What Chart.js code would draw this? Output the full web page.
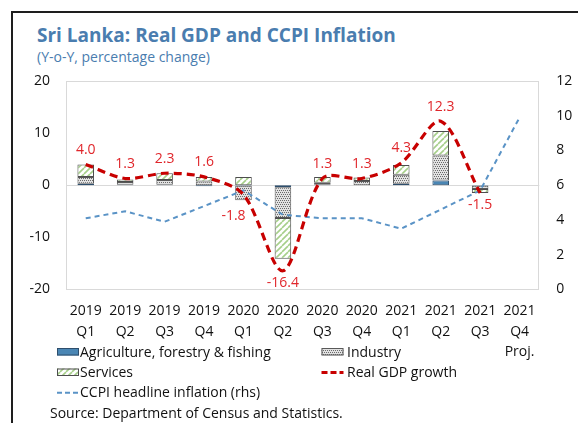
<!DOCTYPE html>
<html><head><meta charset="utf-8">
<script src="https://cdn.jsdelivr.net/npm/chart.js@4.4.1/dist/chart.umd.min.js"></script>
<style>
html,body{margin:0;padding:0;background:#fff;width:578px;height:423px;overflow:hidden;position:relative;}
#frame{position:absolute;left:11px;top:11px;width:700px;height:600px;border-left:2px solid #1e1e1e;border-top:2px solid #1e1e1e;}
.t{position:absolute;font-family:'Open Sans',sans-serif;white-space:nowrap;line-height:1.2;}
#title{left:37px;top:24px;font-size:19px;font-weight:bold;color:#4A7DAF;}
#sub{left:37px;top:49px;font-size:14px;color:#4A7DAF;}
#src{left:50px;top:405px;font-size:14px;color:#111;}
#c{position:absolute;left:0;top:0;}
</style></head>
<body>
<div id="frame"></div>
<div class="t" id="title">Sri Lanka: Real GDP and CCPI Inflation</div>
<div class="t" id="sub">(Y-o-Y, percentage change)</div>
<canvas id="c" width="578" height="423"></canvas>
<div class="t" id="src">Source: Department of Census and Statistics.</div>
<script>
// ---- data ----
const categories = [['2019','Q1'],['2019','Q2'],['2019','Q3'],['2019','Q4'],['2020','Q1'],['2020','Q2'],['2020','Q3'],['2020','Q4'],['2021','Q1'],['2021','Q2'],['2021','Q3'],['2021','Q4','Proj.']];
const agriculture = [0.3, 0.1, 0.1, -0.2, -0.1, -0.4, 0.1, 0.0, 0.3, 0.9, -0.1, null];
const industry    = [1.3, 0.5, 0.9, 0.7, -2.8, -5.9, 0.4, 0.8, 1.7, 4.8, -0.6, null];
const services    = [2.4, 0.5, 1.3, 0.9, 1.6, -7.8, 1.1, 0.7, 1.9, 4.7, -0.8, null];
const realGDP     = [4.0, 1.3, 2.3, 1.6, -1.8, -16.4, 1.3, 1.3, 4.3, 12.3, -1.5, null];
const ccpi        = [4.1, 4.5, 3.9, 4.8, 5.7, 4.3, 4.1, 4.1, 3.5, 4.6, 5.7, 9.9];
const leftTicks   = [-20, -10, 0, 10, 20];
const rightTicks  = [0, 2, 4, 6, 8, 10, 12];
const seriesNames = ['Agriculture, forestry & fishing','Industry','Services','Real GDP growth','CCPI headline inflation (rhs)'];

const FONT = '"Open Sans", sans-serif';
const canvas = document.getElementById('c');
const ctx = canvas.getContext('2d');

function tile(w, h, draw){
  const t = document.createElement('canvas'); t.width = w; t.height = h;
  draw(t.getContext('2d'), w, h);
  return ctx.createPattern(t, 'repeat');
}
const industryPattern = tile(4, 4, (g, w, h) => {
  g.fillStyle = '#E2E2E2'; g.fillRect(0, 0, w, h);
  g.fillStyle = '#6A6A6A';
  [[0,0],[2,0],[1,2],[3,2]].forEach(p => g.fillRect(p[0], p[1], 1, 1));
});
const servicesPattern = tile(6, 6, (g, w, h) => {
  g.fillStyle = '#FFFFFF'; g.fillRect(0, 0, w, h);
  g.strokeStyle = '#A6CF8A'; g.lineWidth = 1.6;
  for (let k = -1; k <= 1; k++) {
    g.beginPath(); g.moveTo(k * w, h); g.lineTo(k * w + w, 0); g.stroke();
  }
});
const agriColor = '#4A86B4';

const labelColor = '#E0262B';
function labelOffset(i, v){
  if (i === 4) return [-10, 21];
  return v >= 0 ? [0, -14.5] : [0, 12];
}

const framePlugin = {
  id: 'frameAndZero',
  beforeDatasetsDraw(chart){
    const a = chart.chartArea, g = chart.ctx, y0 = chart.scales.y.getPixelForValue(0);
    g.save();
    g.strokeStyle = '#D9D9D9'; g.lineWidth = 1;
    g.strokeRect(Math.round(a.left) + 0.5, Math.round(a.top) + 0.5, Math.round(a.right - a.left) - 1, Math.round(a.bottom - a.top) - 1);
    g.beginPath(); g.moveTo(a.left, Math.round(y0) + 0.5); g.lineTo(a.right, Math.round(y0) + 0.5); g.stroke();
    g.restore();
  }
};

const labelPlugin = {
  id: 'gdpLabels',
  afterDatasetsDraw(chart){
    const meta = chart.getDatasetMeta(3), g = chart.ctx;
    g.save();
    g.font = '14px ' + FONT; g.fillStyle = labelColor;
    g.textAlign = 'center'; g.textBaseline = 'middle';
    realGDP.forEach((v, i) => {
      if (v === null) return;
      const p = meta.data[i]; const o = labelOffset(i, v);
      g.fillText(v.toFixed(1), p.x + o[0], p.y + o[1]);
    });
    g.restore();
  }
};

const legendPlugin = {
  id: 'customLegend',
  afterDraw(chart){
    const g = chart.ctx, ds = chart.data.datasets;
    const cols = [57, 321.5], textX = [80, 347], rows = [356.5, 377, 397.3];
    const items = [[0,0,0],[1,1,0],[2,0,1],[3,1,1],[4,0,2]];
    g.save();
    g.font = '14px ' + FONT; g.fillStyle = '#111'; g.textBaseline = 'alphabetic'; g.textAlign = 'left';
    items.forEach(([d, c, r]) => {
      const d0 = ds[d], x = cols[c], yb = rows[r];
      if (d0.type === 'line') {
        g.save();
        g.strokeStyle = d0.borderColor; g.lineWidth = d === 3 ? 3 : 2;
        g.setLineDash(d === 3 ? [6, 3] : [5, 3]);
        g.beginPath(); g.moveTo(x, yb - 4.5); g.lineTo(x + 22, yb - 4.5); g.stroke();
        g.restore();
      } else {
        g.fillStyle = d0.backgroundColor; g.fillRect(x, yb - 8.5, 22, 7.5);
        g.strokeStyle = d0.borderColor; g.lineWidth = 1; g.strokeRect(x + 0.5, yb - 8.5 + 0.5, 21, 6.5);
        g.fillStyle = '#111';
      }
      g.fillText(d0.label, textX[c], yb);
    });
    g.restore();
  }
};

const barCommon = { type: 'bar', yAxisID: 'y', stack: 's', barPercentage: 0.42, categoryPercentage: 1, borderWidth: 1, borderSkipped: false, order: 3 };

new Chart(canvas, {
  data: {
    labels: categories,
    datasets: [
      Object.assign({ label: seriesNames[0], data: agriculture, backgroundColor: agriColor, borderColor: '#2E4E6C' }, barCommon),
      Object.assign({ label: seriesNames[1], data: industry, backgroundColor: industryPattern, borderColor: '#595959' }, barCommon),
      Object.assign({ label: seriesNames[2], data: services, backgroundColor: servicesPattern, borderColor: '#4D4D4D' }, barCommon),
      { type: 'line', label: seriesNames[3], data: realGDP, yAxisID: 'y', borderColor: '#C80000', borderWidth: 3.2, borderDash: [8, 5], pointRadius: 0, tension: 0.3, fill: false, spanGaps: false, order: 0 },
      { type: 'line', label: seriesNames[4], data: ccpi, yAxisID: 'y1', borderColor: '#5A93C6', borderWidth: 2, borderDash: [5, 4], pointRadius: 0, tension: 0, fill: false, order: 1 }
    ]
  },
  options: {
    responsive: false, animation: false, devicePixelRatio: 1,
    layout: { padding: { top: 81, left: 0, right: 0, bottom: 0 } },
    plugins: { legend: { display: false }, tooltip: { enabled: false }, title: { display: false } },
    scales: {
      x: {
        stacked: true, offset: true,
        grid: { display: false, drawTicks: false }, border: { display: false },
        ticks: { color: '#111', font: { family: FONT, size: 14, lineHeight: 1.43 }, padding: 12, maxRotation: 0, autoSkip: false },
        afterFit(s){ s.height = 423 - 289.5; }
      },
      y: {
        position: 'left', stacked: true, min: leftTicks[0], max: leftTicks[leftTicks.length - 1],
        afterBuildTicks(s){ s.ticks = leftTicks.map(v => ({ value: v })); },
        grid: { display: false, drawTicks: false }, border: { display: false },
        ticks: { color: '#111', font: { family: FONT, size: 14 }, padding: 16 },
        afterFit(s){ s.width = 66; }
      },
      y1: {
        position: 'right', min: rightTicks[0], max: rightTicks[rightTicks.length - 1],
        afterBuildTicks(s){ s.ticks = rightTicks.map(v => ({ value: v })); },
        grid: { display: false, drawTicks: false }, border: { display: false },
        ticks: { color: '#111', font: { family: FONT, size: 14 }, padding: 17 },
        afterFit(s){ s.width = 578 - 539.3; }
      }
    }
  },
  plugins: [framePlugin, labelPlugin, legendPlugin]
});
</script>
</body></html>
